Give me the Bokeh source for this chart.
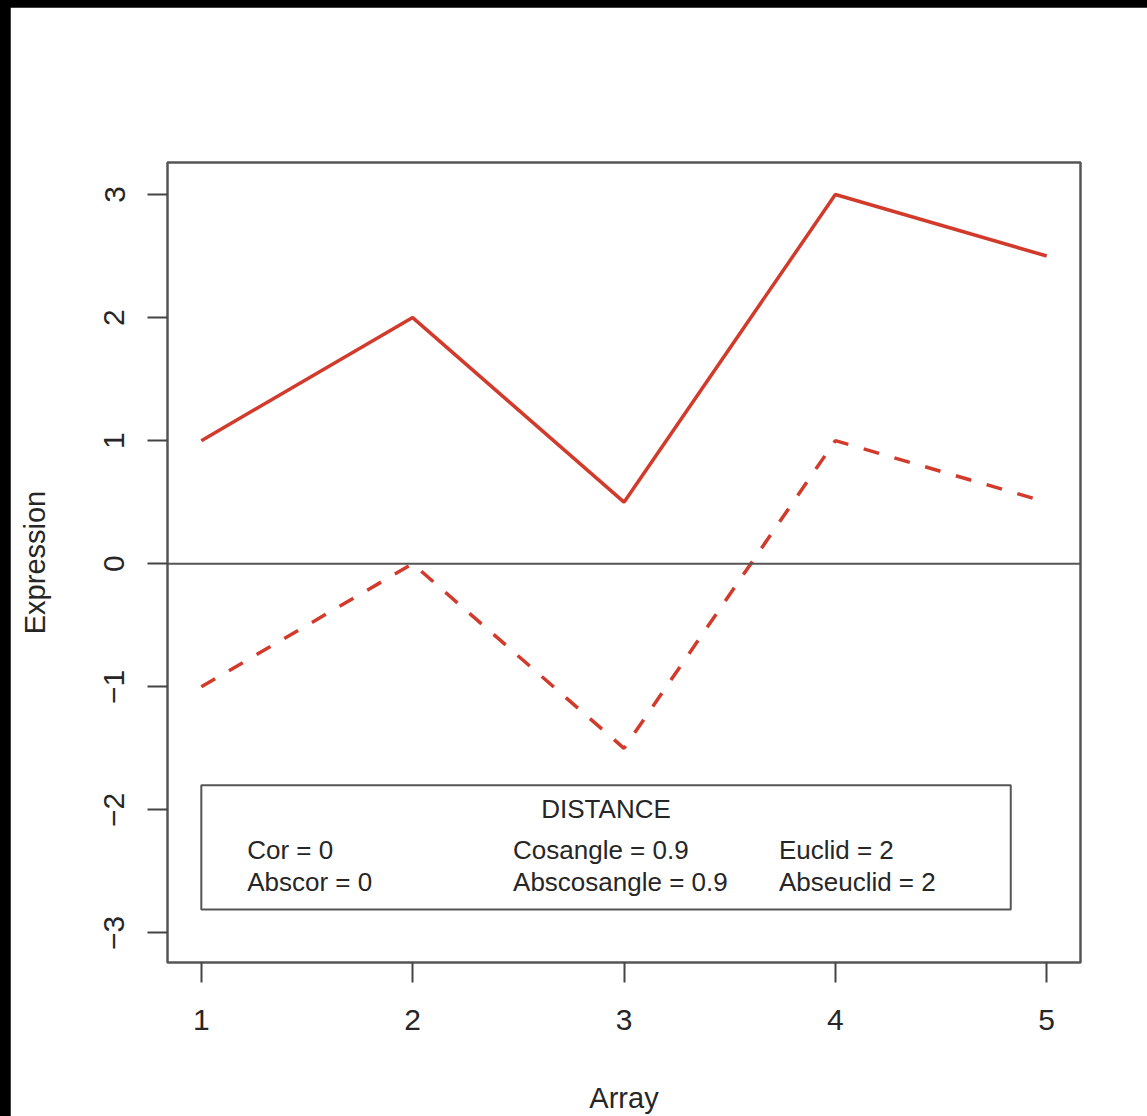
from bokeh.plotting import figure
from bokeh.models import Range1d, FixedTicker, Span, ColumnDataSource
from bokeh.layouts import column
from bokeh.core.properties import value
from bokeh.embed import file_html
from bokeh.resources import INLINE

# ---- data ----
arrays = [1, 2, 3, 4, 5]
gene_a = [1, 2, 0.5, 3, 2.5]
gene_b = [-1, 0, -1.5, 1, 0.5]
x_ticks = [1, 2, 3, 4, 5]
y_ticks = [-3, -2, -1, 0, 1, 2, 3]
legend_title = "DISTANCE"
legend_col1 = ["Cor = 0", "Abscor = 0"]
legend_col2 = ["Cosangle = 0.9", "Abscosangle = 0.9"]
legend_col3 = ["Euclid = 2", "Abseuclid = 2"]

# legend box placement (data units)
leg_left, leg_right, leg_top, leg_bottom = 1.0, 4.83, -1.80, -2.81
leg_cols_x = [1.217, 2.475, 3.733]
leg_title_y = -1.99
leg_rows_y = [-2.325, -2.585]

RED = "#d23b2b"
FONT = "Liberation Sans"
TXT = "#262626"

fig = figure(width=1137, height=1109, output_backend="svg", toolbar_location=None,
             x_range=Range1d(0.84, 5.16), y_range=Range1d(-3.24, 3.26),
             min_border_left=157, min_border_right=67, min_border_top=155,
             min_border_bottom=154, background_fill_color="white",
             border_fill_color="white")
fig.margin = (7, 0, 0, 10)
fig.grid.visible = False
fig.outline_line_color = "#555555"
fig.outline_line_width = 2.5

for ax in (fig.xaxis[0], fig.yaxis[0]):
    ax.axis_line_color = None
    ax.major_tick_out = 20
    ax.major_tick_in = 0
    ax.minor_tick_line_color = None
    ax.major_tick_line_color = "#444444"
    ax.major_tick_line_width = 2
    ax.major_label_text_font = FONT
    ax.major_label_text_font_size = "30px"
    ax.major_label_text_color = TXT
    ax.axis_label_text_font = FONT
    ax.axis_label_text_font_size = "29px"
    ax.axis_label_text_font_style = "normal"
    ax.axis_label_text_color = TXT

fig.xaxis[0].ticker = FixedTicker(ticks=x_ticks)
fig.yaxis[0].ticker = FixedTicker(ticks=y_ticks)
fig.xaxis[0].axis_label = "Array"
fig.yaxis[0].axis_label = "Expression"
fig.yaxis[0].major_label_orientation = "vertical"
fig.xaxis[0].major_label_standoff = 27
fig.yaxis[0].major_label_standoff = 23
fig.xaxis[0].axis_label_standoff = 49
fig.yaxis[0].axis_label_standoff = 51

fig.add_layout(Span(location=0, dimension="width", line_color="#555555", line_width=2))

fig.line(arrays, gene_a, line_color=RED, line_width=3.5)
fig.line(arrays, gene_b, line_color=RED, line_width=3.5, line_dash="16 16")

fig.quad(left=[leg_left], right=[leg_right], top=[leg_top], bottom=[leg_bottom],
         fill_color="white", line_color="#555555", line_width=2)

fig.text(x=[(leg_left + leg_right) / 2], y=[leg_title_y], text=[legend_title],
         text_font=value(FONT), text_font_size="26px", text_color=TXT,
         text_align="center", text_baseline="middle")
for cx, labels in zip(leg_cols_x, [legend_col1, legend_col2, legend_col3]):
    src = ColumnDataSource(dict(x=[cx] * len(labels), y=leg_rows_y, t=labels))
    fig.text(x="x", y="y", text="t", source=src, text_font=value(FONT),
             text_font_size="26px", text_color=TXT, text_align="left",
             text_baseline="middle")

p = column(fig, styles={"background-color": "#000000"}, width=1147, height=1116)

open("out.html", "w").write(file_html(p, INLINE))
